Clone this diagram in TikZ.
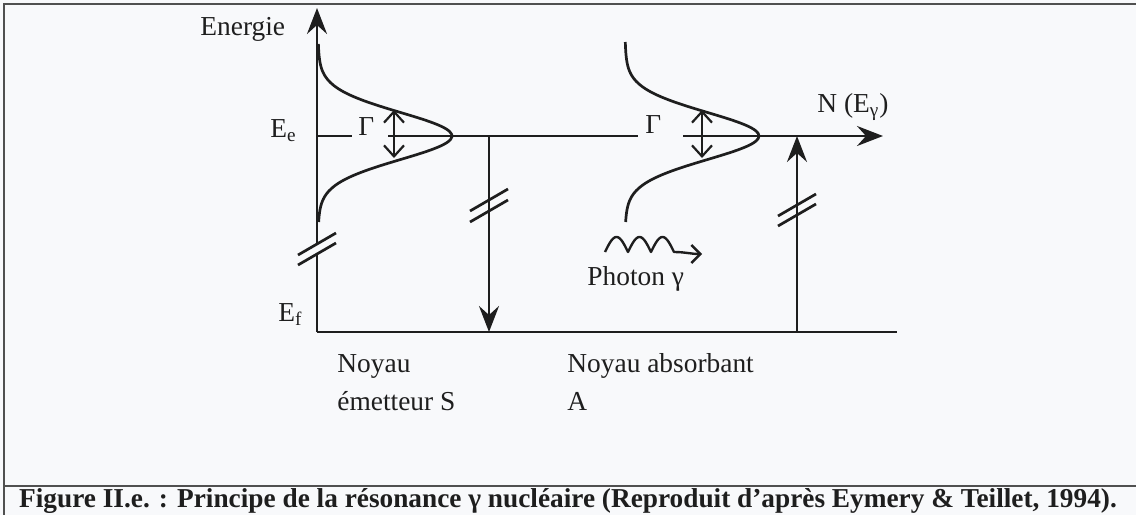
\documentclass[tikz,border=0pt]{standalone}
\usepackage{fontspec}
\setmainfont{Liberation Serif}
\usetikzlibrary{arrows.meta}

\definecolor{ink}{HTML}{1E1E1E}
\definecolor{fond}{HTML}{F8F9FB}
\definecolor{cadre}{HTML}{505050}

\tikzset{
    trait/.style={draw=ink, line width=1.35pt},
    fleche/.style={trait, -{Stealth[length=13pt, width=10pt, inset=4.5pt]}},
    largeur/.style={draw=ink, line width=1.1pt,
        {Straight Barb[length=5.5pt, width=10pt]}-{Straight Barb[length=5.5pt, width=10pt]}},
    etiq/.style={font=\fontsize{13.7}{16}\selectfont, inner sep=0pt, text=ink},
}

% two slanted strokes across a line (broken scale)
\newcommand{\cassure}[2]{%
    \draw[trait] (#1-19,#2+11) -- (#1+19,#2-11);}

\begin{document}
\begin{tikzpicture}[x=0.5pt, y=-0.5pt]
        \useasboundingbox (0,0) rectangle (1136,515);
        \fill[fond] (0,0) rectangle (1136,515);

        % Frame and caption
        \draw[cadre, line width=1.1pt] (1136,4) -- (4,4) -- (4,515);
        \draw[cadre, line width=1.4pt] (4,486) -- (1136,486);
        \node[etiq, font=\bfseries\fontsize{13.65}{16}\selectfont, anchor=base] (legende) at (568,507)
            {Figure II.e. : Principe de la résonance γ nucléaire (Reproduit d’après Eymery \& Teillet, 1994).};

        % Energy axis, broken between E_e and E_f
        \coordinate (O) at (317,332);
        \coordinate (haut) at (317,8);
        \draw[trait] (O) -- (317,254);
        \draw[fleche] (317,244) -- (haut);
        \cassure{317}{244}
        \cassure{317}{254}
        \node[etiq, anchor=base west] (energie) at (200,35) {Energie};

        % Levels
        \coordinate (Ef) at (897,332);
        \draw[trait] (O) -- (Ef);
        \draw[trait] (317,136) -- (352,136);
        \draw[trait] (388,136) -- (638,136);
        \coordinate (fin) at (883,136);
        \draw[fleche] (683,136) -- (fin);
        \node[etiq, anchor=base west] (ee) at (270,137) {E\textsubscript{e}};
        \node[etiq, anchor=base west] (ef) at (278,321) {E\textsubscript{f}};
        \node[etiq, anchor=base west] (nE) at (817,112) {N (E\textsubscript{γ})};

        % Emitter line shape
        \begin{scope}
            \draw[trait, domain=-92:86, samples=70, smooth]
                plot ({317+135*(0.9*exp(-\x*\x/1152)+0.1/(1+\x*\x/900))}, {136+\x});
            \draw[largeur] (394,110) -- (394,158);
            \node[etiq, anchor=base west] (gammaS) at (358,135) {Γ};
        \end{scope}

        % Absorber line shape
        \begin{scope}[shift={(307,0)}]
            \draw[trait, domain=-94:86, samples=70, smooth]
                plot ({317+135*(0.9*exp(-\x*\x/1152)+0.1/(1+\x*\x/900))}, {136+\x});
            \draw[largeur] (395,110) -- (395,158);
        \end{scope}
        \node[etiq, anchor=base west] (gammaA) at (645,133) {Γ};

        % Transitions
        \draw[fleche] (489,136) -- (489,332);
        \cassure{489}{200}
        \cassure{489}{211}
        \draw[fleche] (797,332) -- (797,136);
        \cassure{797}{205}
        \cassure{797}{215}

        % Photon
        \draw[draw=ink, line width=1.2pt, line join=round, -{Straight Barb[length=4.5pt, width=9pt]}]
            plot[domain=0:69, samples=70] ({605+\x}, {252-15*abs(sin(\x*7.826))})
            to[out=0, in=180] (702,254);
        \node[etiq, anchor=base west] (photon) at (587,285) {Photon γ};

        % Nuclei
        \node[etiq, anchor=base west] (noyauS) at (337,372) {Noyau};
        \node[etiq, anchor=base west] (emetteur) at (337,410) {émetteur S};
        \node[etiq, anchor=base west] (noyauA) at (567,372) {Noyau absorbant};
        \node[etiq, anchor=base west] (absorbant) at (567,410) {A};
    \end{tikzpicture}
\end{document}
